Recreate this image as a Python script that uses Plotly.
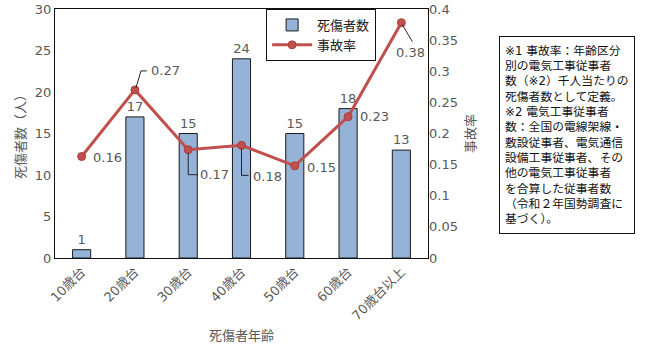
import plotly.graph_objects as go

categories = ["10歳台", "20歳台", "30歳台", "40歳台", "50歳台", "60歳台", "70歳台以上"]
casualties = [1, 17, 15, 24, 15, 18, 13]
accident_rate = [0.163, 0.270, 0.174, 0.181, 0.148, 0.227, 0.378]

series_names = ["死傷者数", "事故率"]
y1_title = "死傷者数（人）"
y2_title = "事故率"
x_title = "死傷者年齢"
note_lines = [
    "※1 事故率：年齢区分",
    "別の電気工事従事者",
    "数（※2）千人当たりの",
    "死傷者数として定義。",
    "※2 電気工事従事者",
    "数：全国の電線架線・",
    "敷設従事者、電気通信",
    "設備工事従事者、その",
    "他の電気工事従事者",
    "を合算した従事者数",
    "（令和２年国勢調査に",
    "基づく）。",
]

# label placement (pixel offsets from each point) and leader-line paths
label_offsets = [(26, -1), (31, 19), (26, -25), (26, -31), (27, -2), (26, 0), (9, -30)]
leader_paths = [None, "M 1,2 L 6,19 L 12,19", "M 0,-3 L 0,-25 L 10,-25",
                "M 0,-3 L 0,-30 L 7,-30", None, None, "M 1,-2 L 11,-19"]

FONT = "DejaVu Sans, Noto Sans CJK JP"
GREY = "#595959"
RED = "#C0504D"

fig = go.Figure()
fig.add_trace(go.Bar(
    x=categories, y=casualties, name=series_names[0],
    marker=dict(color="#95B3D7", line=dict(color="#1a1a1a", width=1)),
    text=[str(v) for v in casualties], textposition="outside",
    textfont=dict(color=GREY, size=13, family=FONT), cliponaxis=False,
))
fig.add_trace(go.Scatter(
    x=categories, y=accident_rate, name=series_names[1], yaxis="y2",
    mode="lines+markers",
    line=dict(color=RED, width=3),
    marker=dict(color=RED, size=8, line=dict(color="#B03C3A", width=1)),
))

annotations = []
shapes = []
for c, v, (dx, dy), p in zip(categories, accident_rate, label_offsets, leader_paths):
    annotations.append(dict(
        x=c, y=v, xref="x", yref="y2", text=f"{v:.2f}", showarrow=False,
        xshift=dx, yshift=dy, font=dict(color=GREY, size=13, family=FONT),
    ))
    if p:
        shapes.append(dict(
            type="path", xref="x", yref="y2", xsizemode="pixel", ysizemode="pixel",
            xanchor=c, yanchor=v, path=p, line=dict(color="#262626", width=1),
        ))

annotations.append(dict(
    x=1.3727, y=0.492, xref="paper", yref="paper", xanchor="center", yanchor="middle",
    text="<br>".join(note_lines), showarrow=False, align="left",
    font=dict(color="#111111", size=11.8, family=FONT),
    bordercolor="#111111", borderwidth=1, borderpad=5, width=124, height=186,
    bgcolor="white",
))

fig.update_layout(
    width=648, height=352,
    margin=dict(l=55, r=220, t=9, b=94, autoexpand=False),
    paper_bgcolor="white", plot_bgcolor="white",
    font=dict(family=FONT, color=GREY, size=13),
    bargap=0.66,
    showlegend=True,
    legend=dict(x=0.566, y=1.0, xanchor="left", yanchor="top",
                bordercolor="#111111", borderwidth=1, bgcolor="white",
                font=dict(size=13, color="#222222", family=FONT),
                itemwidth=40, tracegroupgap=0),
    xaxis=dict(showline=True, linecolor="#111111", linewidth=1, mirror=True,
               automargin=False,
               tickangle=-45, ticks="", tickfont=dict(size=13, color=GREY),
               title=dict(text=x_title, font=dict(size=13, color=GREY), standoff=8)),
    yaxis=dict(range=[0, 30], dtick=5, showgrid=False, zeroline=False,
               showline=True, linecolor="#111111", linewidth=1, mirror=True,
               automargin=False,
               ticks="", tickfont=dict(size=13, color=GREY),
               title=dict(text=y1_title, font=dict(size=13, color=GREY), standoff=6)),
    yaxis2=dict(range=[0, 0.4], dtick=0.05, overlaying="y", side="right",
                automargin=False,
                showgrid=False, zeroline=False, showline=False, ticks="",
                tickfont=dict(size=13, color=GREY),
                title=dict(text=y2_title, font=dict(size=13, color=GREY), standoff=8)),
    annotations=annotations,
    shapes=shapes,
)

fig.write_html("out.html")
